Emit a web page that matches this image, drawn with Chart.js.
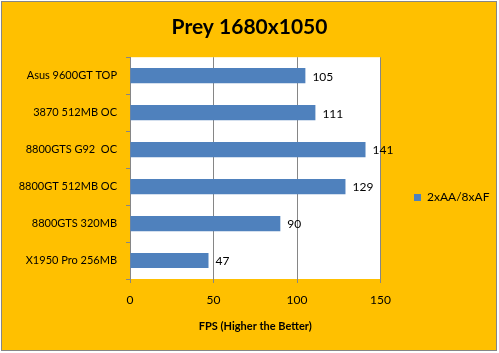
<!DOCTYPE html>
<html>
<head>
<meta charset="utf-8">
<script src="https://cdn.jsdelivr.net/npm/chart.js@4"></script>
<style>
  html, body { margin: 0; padding: 0; background: #fff; }
  #wrap { width: 499px; height: 353px; }
</style>
</head>
<body>
<div id="wrap"><canvas id="myChart" width="499" height="353"></canvas></div>
<script>
var cards = ["Asus 9600GT TOP", "3870 512MB OC", "8800GTS G92  OC", "8800GT 512MB OC", "8800GTS 320MB", "X1950 Pro 256MB"];
var fps_data = [105, 111, 141, 129, 90, 47];
var series_name = "2xAA/8xAF";
var x_ticks = [0, 50, 100, 150];

var fuente = "Lato, 'Open Sans', sans-serif";
var pad_leyenda = 33;

// fondo naranja, borde gris y area blanca
const fondo = {
  id: "fondo",
  beforeDraw(chart) {
    const ctx = chart.ctx;
    const a = chart.chartArea;
    ctx.save();
    ctx.fillStyle = "#ffffff";
    ctx.fillRect(0, 0, chart.width, chart.height);
    ctx.fillStyle = "#FFC000";
    ctx.fillRect(1, 1, chart.width - 3, chart.height - 3);
    ctx.strokeStyle = "#868686";
    ctx.lineWidth = 1;
    ctx.strokeRect(1.5, 1.5, chart.width - 4, chart.height - 4);
    ctx.fillStyle = "#ffffff";
    ctx.fillRect(a.left, a.top, a.right - a.left, a.bottom - a.top);
    ctx.restore();
  },
};

// mover la leyenda a donde esta en la imagen
const moverLeyenda = {
  id: "moverLeyenda",
  afterLayout(chart) {
    const l = chart.legend;
    const dx = 414 - pad_leyenda - l.left;
    l.left += dx;
    l.right += dx;
    l.top += 21;
    l.bottom += 21;
  },
};

// numeros al final de cada barra
const etiquetas = {
  id: "etiquetas",
  afterDatasetsDraw(chart) {
    const ctx = chart.ctx;
    const meta = chart.getDatasetMeta(0);
    ctx.save();
    ctx.font = "12px " + fuente;
    ctx.fillStyle = "#000";
    ctx.textAlign = "left";
    ctx.textBaseline = "middle";
    meta.data.forEach((bar, i) => {
      ctx.fillText(fps_data[i], bar.x + 7, bar.y + 1);
    });
    ctx.restore();
  },
};

const data = {
  labels: cards,
  datasets: [
    {
      label: series_name,
      data: fps_data,
      backgroundColor: "#4F81BD",
      borderWidth: 0,
      barPercentage: 0.41,
      categoryPercentage: 1,
    },
  ],
};

const options = {
  indexAxis: "y",
  responsive: false,
  animation: false,
  layout: { padding: { left: 0, right: 0, top: 0, bottom: 0 } },
  plugins: {
    title: {
      display: true,
      text: "Prey 1680x1050",
      color: "#000",
      font: { family: fuente, size: 21, weight: "bold", lineHeight: 1.2 },
      padding: { top: 15, bottom: 17 },
    },
    legend: {
      display: true,
      position: "right",
      labels: {
        boxWidth: 7,
        boxHeight: 7,
        color: "#000",
        padding: pad_leyenda,
        font: { family: fuente, size: 12 },
      },
    },
    tooltip: { enabled: false },
  },
  scales: {
    x: {
      min: 0,
      max: 150,
      afterBuildTicks(scale) {
        scale.ticks = x_ticks.map((v) => ({ value: v }));
      },
      afterFit(scale) {
        scale.height = 74;
      },
      grid: { color: "#868686", tickLength: 4, drawOnChartArea: true },
      border: { display: false },
      ticks: { color: "#000", padding: 10, font: { family: fuente, size: 12 } },
      title: {
        display: true,
        text: "FPS (Higher the Better)",
        color: "#000",
        font: { family: fuente, size: 11, weight: "bold", lineHeight: 1.2 },
        padding: { top: 0, bottom: 20 },
      },
    },
    y: {
      afterFit(scale) {
        scale.width = 130;
      },
      grid: { color: "#868686", tickLength: 4, drawOnChartArea: false, offset: true },
      border: { display: true, color: "#868686" },
      ticks: { color: "#000", padding: 9, font: { family: fuente, size: 11 } },
    },
  },
};

new Chart(document.getElementById("myChart"), {
  type: "bar",
  data,
  options,
  plugins: [fondo, moverLeyenda, etiquetas],
});
</script>
</body>
</html>
